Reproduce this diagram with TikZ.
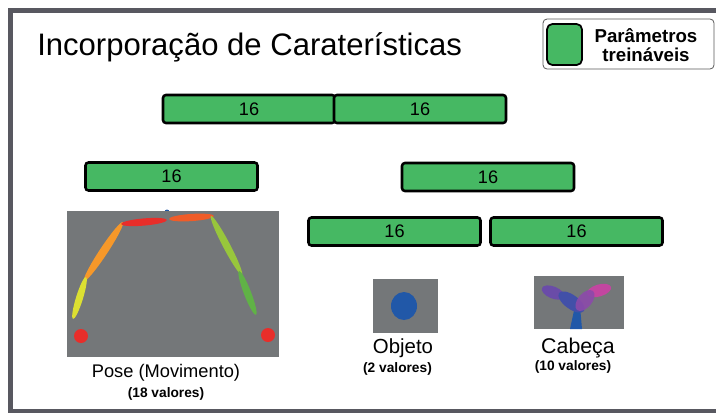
\documentclass[tikz,border=0pt]{standalone}
\usepackage{fontspec}
\setmainfont{Liberation Sans}
\usetikzlibrary{calc}

\definecolor{paramgreen}{RGB}{70,184,99}
\definecolor{framegray}{RGB}{88,88,96}
\definecolor{imggray}{RGB}{116,119,121}
\definecolor{limbred}{RGB}{232,46,42}
\definecolor{limborangered}{RGB}{240,92,40}
\definecolor{limborange}{RGB}{246,152,42}
\definecolor{limbyellow}{RGB}{220,224,50}
\definecolor{limblime}{RGB}{152,198,60}
\definecolor{limbgreen}{RGB}{96,178,70}
\definecolor{objblue}{RGB}{33,88,168}
\definecolor{headviolet}{RGB}{106,76,168}
\definecolor{headindigo}{RGB}{66,80,168}
\definecolor{headorchid}{RGB}{140,74,170}
\definecolor{headpink}{RGB}{194,70,160}

\tikzset{
  param/.style={draw=black, line width=1.9pt, rounded corners=2.2pt, fill=paramgreen,
    minimum width=129pt, minimum height=21pt, inner sep=0pt,
    font=\fontsize{13.6}{15}\selectfont},
  caption/.style={anchor=base, inner sep=0pt},
  valores/.style={anchor=base, inner sep=0pt, font=\bfseries\fontsize{10.3}{12}\selectfont},
}

% limb of a skeleton: ellipse stretched between two joints
\def\limb[#1](#2)(#3)(#4){\fill[#1] let \p1=(#2), \p2=(#3),
  \n1={atan2(\y2-\y1,\x2-\x1)}, \n2={veclen(\x2-\x1,\y2-\y1)/2} in
  [rotate around={\n1:($(\p1)!0.5!(\p2)$)}] ($(\p1)!0.5!(\p2)$) ellipse [x radius=\n2, y radius={#4*0.75pt}];}

\begin{document}
\begin{tikzpicture}[x=0.75pt, y=-0.75pt]
			%%%%% START %%%%%
			\useasboundingbox (0, 0) rectangle (716, 412);
			
			\draw[line width=3.9pt, color=framegray] (10.5, 10.5) rectangle (740, 412);
			
			\node[anchor=base west, inner sep=0pt, font=\fontsize{23.3}{27}\selectfont] (title) at (37, 55) {Incorporação de Caraterísticas};
			
			% legend
			\draw[line width=0.6pt, color=black!65, fill=white, rounded corners=3pt] (543, 19) rectangle (714, 69);
			\draw[line width=1.3pt, fill=paramgreen, rounded corners=4pt] (547, 24) rectangle (582, 65);
			\node[align=center, inner sep=0pt, font=\bfseries\fontsize{14}{14.4}\selectfont] (legendtxt) at (646, 45) {Parâmetros\\treináveis};
			
			% trainable layers
			\node[param] (catA) at (249, 109) {16};
			\node[param] (catB) at (420, 109) {16};
			\node[param] (poseFC) at (171.5, 176.5) {16};
			\node[param] (ctxFC) at (488, 177) {16};
			\node[param] (objFC) at (394.5, 231.5) {16};
			\node[param] (headFC) at (576.5, 231.5) {16};
			
			% pose
			\fill[color=objblue] (167, 212) circle (2.5);
			\fill[color=imggray] (67, 211) rectangle (279, 357);
			\limb[limborange](123, 222)(84, 281)(4)
			\limb[limbyellow](86, 277)(73, 319)(3.5)
			\limb[limbred](121, 224)(167, 220)(3.6)
			\limb[limborangered](169, 219)(214, 216)(3.6)
			\limb[limblime](211, 216)(242, 275)(3.6)
			\limb[limbgreen](239, 271)(256, 315)(3.6)
			\fill[color=limbred] (81, 336) circle (7);
			\fill[color=limbred] (268, 335) circle (7);
			\node[caption, font=\fontsize{13.7}{16}\selectfont] (poseLbl) at (166, 377) {Pose (Movimento)};
			\node[valores] (poseVal) at (166, 397) {(18 valores)};
			
			% object
			\fill[color=imggray] (373, 279) rectangle (438, 333);
			\fill[color=objblue] (404, 306) ellipse (13 and 14);
			\node[caption, font=\fontsize{15.3}{18}\selectfont] (objLbl) at (403, 353) {Objeto};
			\node[valores] (objVal) at (397.5, 372) {(2 valores)};
			
			% head
			\fill[color=imggray] (534, 276) rectangle (624, 329);
			\fill[color=objblue] (575, 306) -- (580, 306) -- (582, 329) -- (570, 329) -- cycle;
			\limb[headviolet](542, 288)(564, 297)(6)
			\limb[headpink](587, 294)(611, 287)(6)
			\limb[headindigo](559, 293)(584, 311)(7)
			\limb[headorchid, opacity=0.9](577, 310)(593, 291)(7)
			\node[caption, font=\fontsize{16}{19}\selectfont] (headLbl) at (578, 353) {Cabeça};
			\node[valores] (headVal) at (573, 370) {(10 valores)};
			
			%%%%% END %%%%%
\end{tikzpicture}
\end{document}
